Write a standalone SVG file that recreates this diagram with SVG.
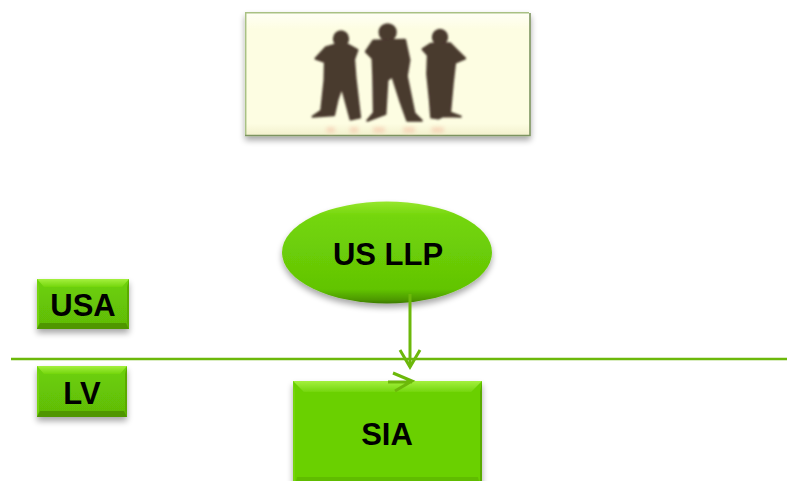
<svg xmlns="http://www.w3.org/2000/svg" width="787" height="481" viewBox="0 0 787 481">
<style>
.lbl{font-family:"Liberation Sans",Arial,sans-serif;font-weight:700;font-size:31px;fill:#000;text-anchor:middle}
.conn{fill:none;stroke:#6cb80a;stroke-width:2.4}
.head{stroke-width:3}
.t{fill:url(#bt)}.l{fill:#74d40e}.r{fill:#5aab05}.b{fill:#4f9604}
.sil{fill:#4a3a2e;stroke:#4a3a2e;stroke-width:7;stroke-linejoin:round;filter:url(#soft)}
</style>
<defs>
<linearGradient id="bt" x1="0" y1="0" x2="0" y2="1"><stop offset="0" stop-color="#a4f03e"/><stop offset="1" stop-color="#74d60c"/></linearGradient>
<linearGradient id="face" x1="0" y1="0" x2="0" y2="1"><stop offset="0" stop-color="#6ed208"/><stop offset="1" stop-color="#5fba06"/></linearGradient>
<linearGradient id="oval" x1="0" y1="0" x2="0" y2="1"><stop offset="0" stop-color="#96e62e"/><stop offset=".14" stop-color="#74d60a"/><stop offset=".86" stop-color="#62c404"/><stop offset=".96" stop-color="#4d9a04"/><stop offset="1" stop-color="#3d7a03"/></linearGradient>
<linearGradient id="paper" x1="0" y1="0" x2="0" y2="1"><stop offset="0" stop-color="#fffff6"/><stop offset=".14" stop-color="#fdfde2"/><stop offset=".9" stop-color="#fdfde2"/><stop offset="1" stop-color="#f2f0cc"/></linearGradient>
<filter id="shadow" x="-15%" y="-15%" width="130%" height="140%"><feGaussianBlur in="SourceAlpha" stdDeviation="3"/><feOffset dy="4"/><feComponentTransfer><feFuncA type="linear" slope=".35"/></feComponentTransfer><feMerge><feMergeNode/><feMergeNode in="SourceGraphic"/></feMerge></filter>
<filter id="soft" x="-10%" y="-10%" width="120%" height="120%"><feGaussianBlur stdDeviation="3"/></filter>
<filter id="softer" x="-30%" y="-80%" width="160%" height="260%"><feGaussianBlur stdDeviation="6"/></filter>
</defs>

<g id="picture">
<g filter="url(#shadow)">
<rect x="245" y="12" width="285" height="124" fill="url(#paper)"/>
<path d="M245.7,136V12.7H529" fill="none" stroke="#a9c184" stroke-width="1.5"/>
<path d="M530,13V135.5H245" fill="none" stroke="#7d9460" stroke-width="1.6"/>
</g>
<g transform="translate(230 0) scale(.3333)">
<g fill="#f5b9a0" filter="url(#softer)" opacity=".55"><rect x="290" y="382" width="24" height="16"/><rect x="360" y="382" width="24" height="16"/><rect x="430" y="382" width="34" height="16"/><rect x="520" y="382" width="34" height="16"/><rect x="605" y="382" width="36" height="16"/></g>
<g class="sil">
<ellipse cx="333" cy="116" rx="21" ry="22"/>
<path d="M312,135L355,135L382,150L372,178L376,232L390,352L362,358L342,285L335,262L322,300L312,345L248,350L274,332L284,240L285,186L257,176L288,142Z"/>
<ellipse cx="473" cy="97" rx="24" ry="24"/>
<path d="M430,122L525,120L538,180L530,228L553,340L575,362L532,362L510,300L487,228L472,240L466,342L412,362L432,338L430,226L428,175L408,155Z"/>
<ellipse cx="630" cy="112" rx="21" ry="22"/>
<path d="M602,132L660,130L680,150L705,175L675,188L668,250L660,338L692,350L640,348L626,355L604,352L600,300L592,222L594,166L578,148Z"/>
</g>
</g>
</g>

<g id="us-llp">
<ellipse cx="387" cy="252.5" rx="105" ry="51" fill="url(#oval)" filter="url(#shadow)"/>
<text class="lbl" x="388" y="265">US LLP</text>
</g>

<g id="usa">
<g filter="url(#shadow)">
<rect fill="url(#face)" x="37" y="279" width="92" height="50"/>
<polygon class="t" points="37,279 129,279 122,287 44,287"/>
<polygon class="l" points="37,279 39,287 39,323 37,329"/>
<polygon class="r" points="129,279 127,287 127,323 129,329"/>
<polygon class="b" points="37,329 129,329 126,323 40,323"/>
</g>
<text class="lbl" x="83" y="316">USA</text>
</g>

<g id="lv">
<g filter="url(#shadow)">
<rect fill="url(#face)" x="37" y="366" width="90" height="51"/>
<polygon class="t" points="37,366 127,366 120,374 44,374"/>
<polygon class="l" points="37,366 39,374 39,411 37,417"/>
<polygon class="r" points="127,366 125,374 125,411 127,417"/>
<polygon class="b" points="37,417 127,417 124,411 40,411"/>
</g>
<text class="lbl" x="82" y="404">LV</text>
</g>

<g id="sia">
<g filter="url(#shadow)">
<rect fill="#6ad006" x="293" y="381" width="189" height="112"/>
<polygon class="t" points="293,381 482,381 471,392 304,392"/>
<polygon class="l" points="293,381 295,392 295,485 293,493"/>
<polygon class="r" points="482,381 480,392 480,485 482,493"/>
<polygon fill="#60bc05" points="293,493 482,493 478,477 297,477"/>
</g>
<text class="lbl" x="387" y="445">SIA</text>
</g>

<g id="connectors">
<line class="conn" x1="11" y1="359" x2="787" y2="359"/>
<path class="conn head" d="M410,294V367"/>
<path class="conn head" d="M400,350L410,367L420,350"/>
<path class="conn head" d="M388,382H412M393,373L412,381L395,391"/>
</g>
</svg>
